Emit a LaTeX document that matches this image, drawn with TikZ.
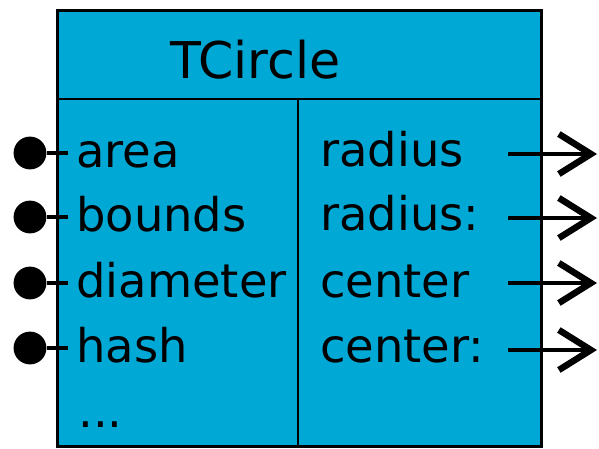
\documentclass[tikz,border=0pt]{standalone}
\usepackage{fontspec}
\setmainfont{DejaVu Sans}
\usetikzlibrary{arrows.meta,positioning}
\definecolor{classCyan}{RGB}{0,168,214}

\begin{document}
\begin{tikzpicture}[x=0.025cm,y=-0.025cm,
  member/.style={anchor=base west,inner sep=0pt,font=\fontsize{33}{40}\selectfont},
  plug/.style={circle,fill=black,inner sep=0pt,minimum size=0.82cm},
  plugline/.style={line width=3.4pt,shorten >=0.2cm},
  outarrow/.style={line width=3.2pt,-{Straight Barb[length=0.8cm,width=1.0cm,line width=4.6pt]}}]
\useasboundingbox (0,0) rectangle (599,448);
% class box
\node[draw,fill=classCyan,line width=2.2pt,anchor=north west,inner sep=0pt,
  minimum width=12.1cm,minimum height=10.9cm] (tcircle) at (56,9) {};
\draw[line width=1.6pt] (56,99) -- (540,99);
\draw[line width=1.6pt] (298,99) -- (298,445);
\node[member,font=\fontsize{36}{43}\selectfont] (title) at (170,78) {TCircle};
% left column
\node[member] (area) at (76,167) {area};
\node[member] (bounds) at (76,231) {bounds};
\node[member] (diameter) at (76,297) {diameter};
\node[member] (hash) at (76,362) {hash};
\node[member] (more) at (78,427) {...};
% right column
\node[member] (radius) at (320,166) {radius};
\node[member] (radiusSet) at (320,230) {radius:};
\node[member] (center) at (320,297) {center};
\node[member] (centerSet) at (320,362) {center:};
% plugs
\node[plug] (pArea) at (30,153) {};
\node[plug] (pBounds) at (30,217) {};
\node[plug] (pDiameter) at (30,283) {};
\node[plug] (pHash) at (30,348) {};
\draw[plugline] (pArea) -- (pArea -| area.west);
\draw[plugline] (pBounds) -- (pBounds -| bounds.west);
\draw[plugline] (pDiameter) -- (pDiameter -| diameter.west);
\draw[plugline] (pHash) -- (pHash -| hash.west);
% outlets
\coordinate (oRadius) at (508,154);
\coordinate (oRadiusSet) at (508,218);
\coordinate (oCenter) at (508,283);
\coordinate (oCenterSet) at (508,350);
\draw[outarrow] (oRadius) -- ++(89,0);
\draw[outarrow] (oRadiusSet) -- ++(89,0);
\draw[outarrow] (oCenter) -- ++(89,0);
\draw[outarrow] (oCenterSet) -- ++(89,0);
\end{tikzpicture}
\end{document}
